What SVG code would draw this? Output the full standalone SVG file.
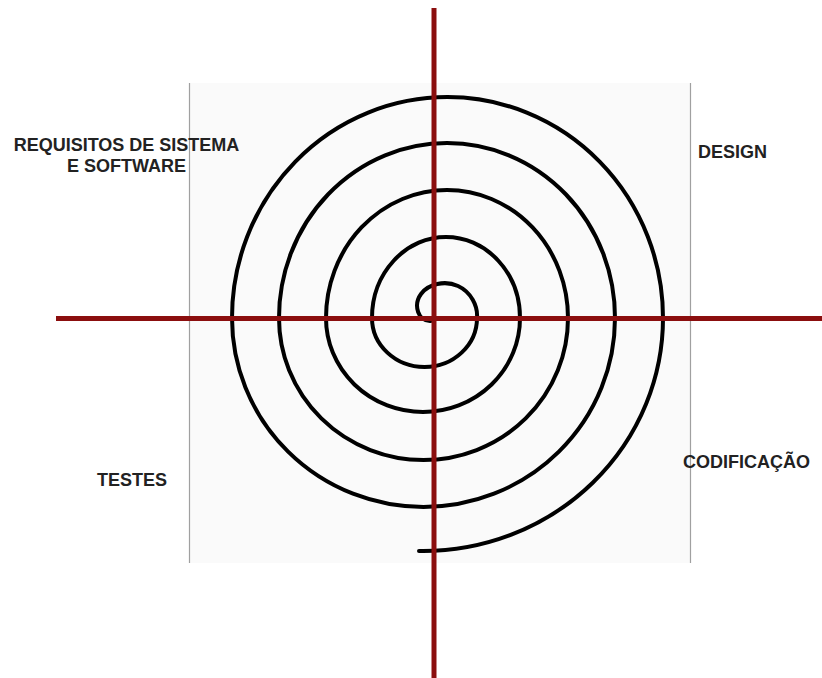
<svg xmlns="http://www.w3.org/2000/svg" width="822" height="678" viewBox="0 0 822 678">
<style>
.lbl{font-family:"Liberation Sans",Arial,sans-serif;font-weight:bold;font-size:18px;fill:#222}
.axis{stroke:#8b0e0e;stroke-width:5;fill:none}
.spiral{stroke:#000;stroke-width:4;fill:none;stroke-linecap:round}
.edge{stroke:#a0a0a0;stroke-width:1.2}
</style>
<rect width="822" height="678" fill="#fff"/>
<g id="panel">
<rect x="189" y="83" width="502" height="480" fill="#fafafa"/>
<line class="edge" x1="189.5" y1="83" x2="189.5" y2="563"/>
<line class="edge" x1="690.5" y1="83" x2="690.5" y2="563"/>
</g>
<g id="spiral">
<path class="spiral" d="M 431 321 C 418 322 413 305 421 294 C 428 284 445 280 458 286 C 471 292 478 306 477 318 A 52.5 49 0 0 1 372 318 A 74 81 0 0 1 520 318 A 97 94 0 0 1 326 318 A 121 128 0 0 1 568 318 A 144.5 142 0 0 1 279 318 A 168 175 0 0 1 615 318 A 191.5 189 0 0 1 232 318 A 215.5 221 0 0 1 663 318 A 240 233 0 0 1 423 551 L 419 551"/>
</g>
<g id="connectors">
<line class="axis" x1="434" y1="8" x2="434" y2="678"/>
<line class="axis" x1="56" y1="318.5" x2="822" y2="318.5"/>
</g>
<g id="req"><text class="lbl" x="126.5" y="151" text-anchor="middle">REQUISITOS DE SISTEMA</text><text class="lbl" x="126.5" y="172" text-anchor="middle">E SOFTWARE</text></g>
<g id="design"><text class="lbl" x="698" y="158">DESIGN</text></g>
<g id="codificacao"><text class="lbl" x="683" y="468">CODIFICAÇÃO</text></g>
<g id="testes"><text class="lbl" x="97" y="486">TESTES</text></g>
</svg>
